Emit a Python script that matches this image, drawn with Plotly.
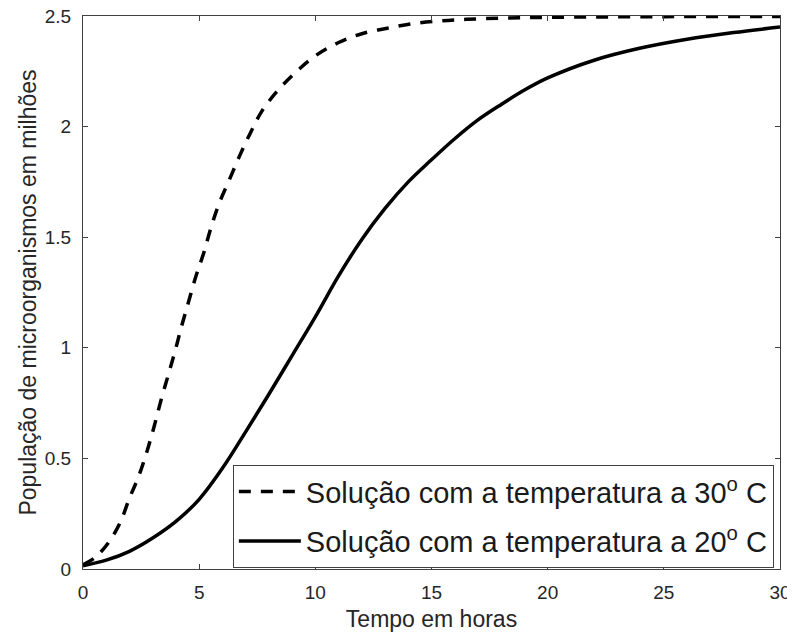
import plotly.graph_objects as go

# Leitura aproximada das curvas (tempo em horas, população em milhões)
t_30 = [0, 0.5, 1.1, 1.6, 2.0, 2.4, 2.75, 3.05, 3.35, 3.65, 3.95, 4.25, 4.55, 4.85,
        5.2, 5.5, 5.85, 6.3, 6.75, 7.2, 7.7, 8.4, 9.2, 10.0, 11.0, 12.0, 13.1,
        14.2, 15.4, 16.5, 18.0, 20.0, 25.0, 30.0]
p_30 = [0.02, 0.05, 0.12, 0.21, 0.32, 0.42, 0.53, 0.64, 0.76, 0.87, 0.98, 1.10, 1.21, 1.32,
        1.43, 1.54, 1.65, 1.76, 1.87, 1.97, 2.07, 2.165, 2.25, 2.32, 2.38, 2.42, 2.445,
        2.465, 2.478, 2.485, 2.49, 2.494, 2.497, 2.498]

t_20 = [0, 1, 2, 3, 4, 5, 6, 7, 8, 9, 10, 11, 12, 13, 14, 15, 16, 17, 18, 19, 20,
        22, 24, 26, 28, 30]
p_20 = [0.015, 0.04, 0.08, 0.14, 0.215, 0.315, 0.455, 0.62, 0.79, 0.965, 1.14, 1.325, 1.49,
        1.63, 1.75, 1.85, 1.945, 2.03, 2.10, 2.165, 2.22, 2.30, 2.355, 2.395, 2.425, 2.45]

x_ticks = [0, 5, 10, 15, 20, 25, 30]
y_ticks = [0, 0.5, 1, 1.5, 2, 2.5]
y_ticktext = ["0", "0.5", "1", "1.5", "2", "2.5"]

FONT = "Liberation Sans, Arial, sans-serif"
GRAY = "#262626"

fig = go.Figure()
fig.add_trace(go.Scatter(
    x=t_30, y=p_30, mode="lines", line_shape="spline",
    name="Solução com a temperatura a 30<sup>o</sup> C",
    legendgroup="a",
    line=dict(color="black", width=3.5, dash="12px,10px"),
))
fig.add_trace(go.Scatter(
    x=t_20, y=p_20, mode="lines", line_shape="spline",
    name="Solução com a temperatura a 20<sup>o</sup> C",
    legendgroup="b",
    line=dict(color="black", width=3.5),
))

axis_common = dict(
    showline=True, linecolor="#404040", linewidth=1, mirror="ticks",
    ticks="inside", ticklen=5, tickcolor="#404040",
    showgrid=False, zeroline=False, automargin=False,
    ticklabeloverflow="allow",
    tickfont=dict(family=FONT, size=19, color=GRAY),
)
fig.update_xaxes(
    range=[0, 30], tickvals=x_ticks, ticklabelstandoff=6,
    title=dict(text="Tempo em horas", font=dict(family=FONT, size=23, color=GRAY), standoff=9),
    **axis_common,
)
fig.update_yaxes(
    range=[0, 2.5], tickvals=y_ticks, ticktext=y_ticktext, ticklabelstandoff=7,
    title=dict(text="População de microorganismos em milhões",
               font=dict(family=FONT, size=23, color=GRAY), standoff=1),
    **axis_common,
)
# a página tem 8px de margem no body, por isso a figura é um pouco menor
fig.update_layout(
    width=787, height=627,
    margin=dict(l=75, r=15, t=8, b=66),
    plot_bgcolor="white", paper_bgcolor="white",
    font=dict(family=FONT, color=GRAY),
    legend=dict(
        x=0.215, y=0.188, xanchor="left", yanchor="top",
        bgcolor="white", bordercolor="#404040", borderwidth=1,
        font=dict(family=FONT, size=29, color="#1a1a1a"),
        traceorder="grouped", tracegroupgap=9, itemwidth=62,
    ),
)
fig.write_html("out.html")
